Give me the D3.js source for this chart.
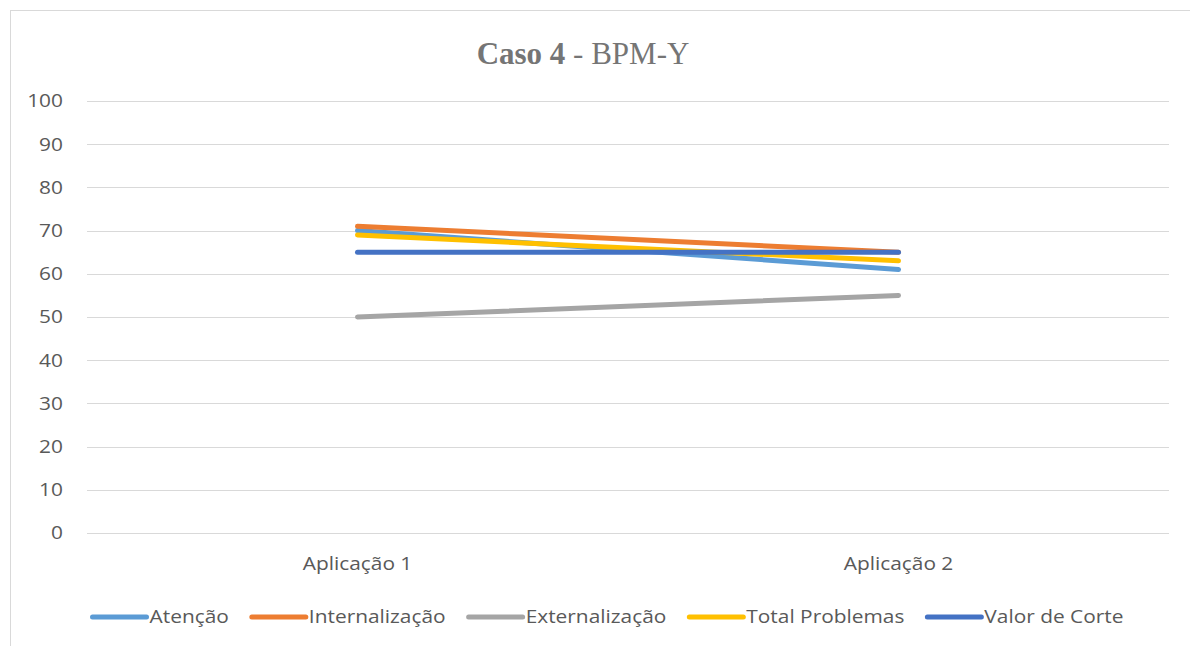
<!DOCTYPE html>
<meta charset="utf-8">
<script src="https://d3js.org/d3.v7.min.js"></script>
<style>
  body { margin: 0; background: #fff; }
  text { font-family: "Open Sans", "Noto Sans", sans-serif; }
</style>
<svg id="chart" width="1190" height="646"></svg>
<script>
// chart data
var categories = ["Aplicação 1", "Aplicação 2"];
var seriesNames = ["Atenção", "Internalização", "Externalização", "Total Problemas", "Valor de Corte"];
var atencao = [70, 61];
var internalizacao = [71, 65];
var externalizacao = [50, 55];
var totalProblemas = [69, 63];
var valorCorte = [65, 65];
var yTicks = [0, 10, 20, 30, 40, 50, 60, 70, 80, 90, 100];

var colors = ["#5B9BD5", "#ED7D31", "#A5A5A5", "#FFC000", "#4472C4"];
var seriesValues = [atencao, internalizacao, externalizacao, totalProblemas, valorCorte];

var svg = d3.select("#chart");

// the reference font is a bit wider than Open Sans, stretch it horizontally
var stretch = 1.16;

// chart area border (only top and left visible)
svg.append("rect")
  .attr("x", 10.5).attr("y", 10.5)
  .attr("width", 1200).attr("height", 700)
  .attr("fill", "none").attr("stroke", "#d9d9d9");

var plotLeft = 87, plotRight = 1169, plotTop = 101, plotBottom = 533;

var x = d3.scaleBand().domain(categories).range([plotLeft, plotRight]);
var y = d3.scaleLinear().domain([0, 100]).range([plotBottom, plotTop]);

// title
var title = svg.append("text")
  .attr("x", 583).attr("y", 64)
  .attr("text-anchor", "middle")
  .style("font-family", "'Liberation Serif', 'Times New Roman', serif")
  .style("font-size", "31px")
  .attr("fill", "#757575");
title.append("tspan").attr("font-weight", "bold").text("Caso 4");
title.append("tspan").text(" - BPM-Y");

// gridlines
svg.append("g")
  .selectAll("line")
  .data(yTicks)
  .enter()
  .append("line")
    .attr("x1", plotLeft).attr("x2", plotRight)
    .attr("y1", function(d){ return Math.round(y(d)) + 0.5 })
    .attr("y2", function(d){ return Math.round(y(d)) + 0.5 })
    .attr("stroke", "#d9d9d9")
    .attr("stroke-width", 1);

// y tick labels
svg.append("g")
  .selectAll("text")
  .data(yTicks)
  .enter()
  .append("text")
    .attr("transform", function(d){ return "translate(63," + y(d) + ") scale(" + stretch + ",1)" })
    .attr("dy", "0.35em")
    .attr("text-anchor", "end")
    .style("font-size", "18px")
    .attr("fill", "#595959")
    .text(function(d){ return d });

// x category labels
svg.append("g")
  .selectAll("text")
  .data(categories)
  .enter()
  .append("text")
    .attr("transform", function(d){ return "translate(" + (x(d) + x.bandwidth() / 2) + ",564) scale(" + stretch + ",1)" })
    .attr("dy", "0.35em")
    .attr("text-anchor", "middle")
    .style("font-size", "18px")
    .attr("fill", "#595959")
    .text(function(d){ return d });

// lines
var line = d3.line()
  .x(function(d, i){ return x(categories[i]) + x.bandwidth() / 2 })
  .y(function(d){ return y(d) });

svg.append("g")
  .selectAll("path")
  .data(seriesValues)
  .enter()
  .append("path")
    .attr("d", function(d){ return line(d) })
    .attr("fill", "none")
    .attr("stroke", function(d, i){ return colors[i] })
    .attr("stroke-width", 5)
    .attr("stroke-linecap", "round");

// legend
var ly = 617, lineLen = 54;
var items = svg.append("g")
  .selectAll("g")
  .data(seriesNames)
  .enter()
  .append("g");
items.each(function(d, i) {
  var g = d3.select(this);
  g.append("line")
    .attr("x1", 0).attr("x2", lineLen)
    .attr("y1", 0).attr("y2", 0)
    .attr("stroke", colors[i])
    .attr("stroke-width", 5)
    .attr("stroke-linecap", "round");
  g.append("text")
    .attr("transform", "translate(" + (lineLen + 3) + ",0) scale(" + stretch + ",1)")
    .attr("dy", "0.35em")
    .style("font-size", "18px")
    .attr("fill", "#595959")
    .text(d);
});
var widths = [];
items.each(function() {
  widths.push(lineLen + 3 + this.querySelector("text").getComputedTextLength() * stretch);
});
var gap = 23;
var total = d3.sum(widths) + gap * (widths.length - 1);
var lx = 608 - total / 2;
items.attr("transform", function(d, i) {
  var t = "translate(" + lx + "," + ly + ")";
  lx += widths[i] + gap;
  return t;
});
</script>
